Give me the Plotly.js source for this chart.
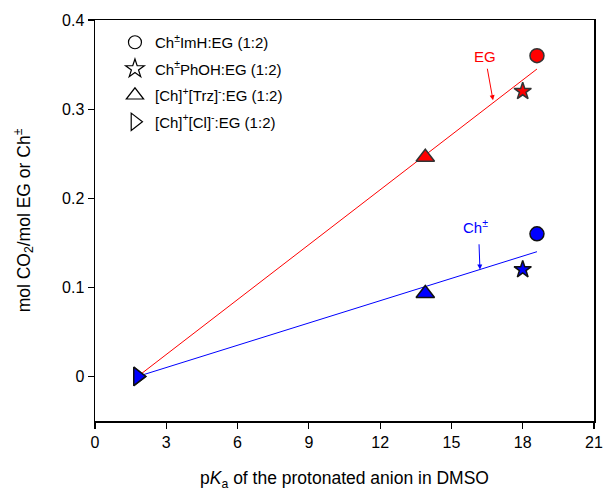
<!DOCTYPE html>
<html>
<head>
<meta charset="utf-8">
<script src="https://cdn.plot.ly/plotly-3.0.1.min.js"></script>
<style>html,body{margin:0;padding:0;background:#fff;}#chart{width:603px;height:493px;}</style>
</head>
<body>
<div id="chart"></div>
<script>
// Data
var systems = ["Ch<sup>±</sup>ImH:EG (1:2)", "Ch<sup>±</sup>PhOH:EG (1:2)", "[Ch]<sup>+</sup>[Trz]<sup>-</sup>:EG (1:2)", "[Ch]<sup>+</sup>[Cl]<sup>-</sup>:EG (1:2)"];
var pKa = [18.6, 18.0, 13.9, 1.8];
var co2PerEG = [0.36, 0.32, 0.246, 0];
var co2PerCh = [0.16, 0.12, 0.093, 0];
var fitX = [1.8, 18.6];
var fitEG = [0, 0.345];
var fitCh = [0, 0.14];
var symbols = ["circle", "star", "triangle-up", "triangle-right"];
var sizes = [14, 13, 16, 16];
var legendSizes = [13, 14, 15, 15];

var traces = [];
traces.push({x: fitX, y: fitEG, mode: "lines", line: {color: "#ff0000", width: 1}, showlegend: false, hoverinfo: "skip"});
traces.push({x: fitX, y: fitCh, mode: "lines", line: {color: "#0000ff", width: 1}, showlegend: false, hoverinfo: "skip"});
for (var i = 0; i < pKa.length; i++) {
  traces.push({x: [pKa[i]], y: [co2PerEG[i]], mode: "markers", showlegend: false,
    marker: {symbol: symbols[i], size: sizes[i], color: "#ff0000", line: {color: "#333333", width: 1.5}}});
}
for (var i = 0; i < pKa.length; i++) {
  traces.push({x: [pKa[i]], y: [co2PerCh[i]], mode: "markers", showlegend: false,
    marker: {symbol: symbols[i], size: sizes[i], color: "#0000ff", line: {color: "#111111", width: 1.5}}});
}
for (var i = 0; i < systems.length; i++) {
  traces.push({x: [null], y: [null], mode: "markers", name: systems[i], legendgroup: "g" + i,
    marker: {symbol: symbols[i] + "-open", size: legendSizes[i], color: "#000000", line: {width: 1.2}}});
}

var layout = {
  width: 603, height: 493,
  margin: {l: 95, r: 9, t: 20, b: 72},
  paper_bgcolor: "#ffffff", plot_bgcolor: "#ffffff",
  font: {family: "Liberation Sans, Arial, sans-serif", color: "#000000"},
  showlegend: true,
  legend: {x: 0.04, y: 0.985, xanchor: "left", yanchor: "top", bgcolor: "rgba(0,0,0,0)",
    font: {size: 15}, traceorder: "grouped", tracegroupgap: 4, itemwidth: 30},
  xaxis: {range: [0, 21], tickvals: [0, 3, 6, 9, 12, 15, 18, 21], showgrid: false, zeroline: false,
    showline: true, linecolor: "#000", linewidth: 1.5, mirror: true,
    ticks: "outside", ticklen: 6, tickwidth: 1.2, tickcolor: "#000",
    tickfont: {size: 16},
    title: {text: "p<i>K</i><sub>a</sub> of the protonated anion in DMSO", font: {size: 17.5}, standoff: 22}},
  yaxis: {range: [-0.05, 0.4], tickvals: [0, 0.1, 0.2, 0.3, 0.4], ticktext: ["0", "0.1", "0.2", "0.3", "0.4"],
    showgrid: false, zeroline: false,
    showline: true, linecolor: "#000", linewidth: 1.5, mirror: true,
    ticks: "outside", ticklen: 6, tickwidth: 1.2, tickcolor: "#000",
    tickfont: {size: 16},
    title: {text: "mol CO<sub>2</sub>/mol EG or Ch<sup>±</sup>", font: {size: 17.5}, standoff: 27}},
  annotations: [
    {x: 16.4, y: 0.359, xref: "x", yref: "y", text: "EG", showarrow: false, font: {size: 15, color: "#ff0000"}},
    {x: 16.75, y: 0.31, ax: 16.5, ay: 0.347, axref: "x", ayref: "y", xref: "x", yref: "y", text: "",
      showarrow: true, arrowhead: 2, arrowsize: 1, arrowwidth: 1, arrowcolor: "#ff0000"},
    {x: 16.03, y: 0.168, xref: "x", yref: "y", text: "Ch<sup>±</sup>", showarrow: false, font: {size: 15, color: "#0000ff"}},
    {x: 16.2, y: 0.12, ax: 16.16, ay: 0.15, axref: "x", ayref: "y", xref: "x", yref: "y", text: "",
      showarrow: true, arrowhead: 2, arrowsize: 1, arrowwidth: 1, arrowcolor: "#0000ff"}
  ]
};

Plotly.newPlot("chart", traces, layout, {displayModeBar: false, staticPlot: true});
</script>
</body>
</html>
